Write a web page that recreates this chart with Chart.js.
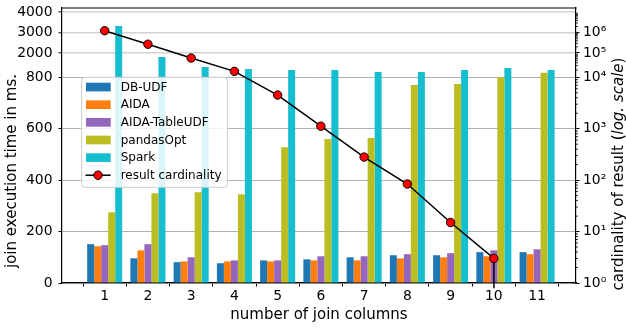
<!DOCTYPE html>
<html>
<head>
<meta charset="utf-8">
<script src="https://cdn.jsdelivr.net/npm/chart.js@4/dist/chart.umd.min.js"></script>
<style>
  html, body { margin: 0; padding: 0; background: #fff; }
  canvas { display: block; }
</style>
</head>
<body>
<canvas id="c" width="626" height="329"></canvas>
<script>
// ---------------- data ----------------
const categories = [1, 2, 3, 4, 5, 6, 7, 8, 9, 10, 11];
const seriesNames = ['DB-UDF', 'AIDA', 'AIDA-TableUDF', 'pandasOpt', 'Spark'];
const dbUdf      = [151, 96, 81, 77, 88, 92, 100, 108, 108, 120, 120];
const aida       = [143, 127, 84, 84, 84, 88, 88, 96, 100, 104, 112];
const aidaTable  = [147, 151, 100, 88, 88, 104, 104, 112, 116, 127, 131];
const pandasOpt  = [275, 349, 353, 345, 528, 560, 564, 770, 774, 800, 1026];
const spark      = [3325, 1800, 1307, 1209, 1160, 1160, 1060, 1060, 1160, 1258, 1160];
const lineName   = 'result cardinality';
const cardinality = [1.25e6, 2.7e5, 6.2e4, 1.76e4, 4520, 1120, 281, 84, 15, 3, 0];
const leftTicks  = [0, 200, 400, 600, 800, 2000, 3000, 4000];
const rightTicks = [1, 10, 100, 1000, 10000, 100000, 1000000];
const xTitle = 'number of join columns';
const yTitle = 'join execution time in ms.';
const y2TitleParts = [['cardinality of result (', false], ['log. scale', true], [')', false]];

const colors = ['#1f77b4', '#ff7f0e', '#9467bd', '#bcbd22', '#17becf'];
const FONT = '"DejaVu Sans", "Liberation Sans", sans-serif';

// ------------- broken (piecewise) scale -------------
class BrokenScale extends Chart.Scale {
  determineDataLimits() {
    const k = this.options.knots;
    this.min = k[0][0];
    this.max = k[k.length - 1][0];
  }
  buildTicks() {
    return this.options.tickValues.map(v => ({ value: v }));
  }
  _t(v) { return this.options.logMode ? Math.log10(Math.max(v, 1e-300)) : v; }
  _frac(v) {
    const k = this.options.knots;
    const t = this._t(v);
    let i = 1;
    while (i < k.length - 1 && t > this._t(k[i][0])) i++;
    const a = k[i - 1], b = k[i];
    const ta = this._t(a[0]), tb = this._t(b[0]);
    return a[1] + (t - ta) / (tb - ta) * (b[1] - a[1]);
  }
  getPixelForValue(v) {
    if (v === null || v === undefined || isNaN(v)) return NaN;
    return this.getPixelForDecimal(this._frac(v));
  }
  getPixelForTick(i) {
    const t = this.ticks;
    if (i < 0 || i > t.length - 1) return null;
    return this.getPixelForValue(t[i].value);
  }
  getValueForPixel(p) {
    const f = this.getDecimalForPixel(p);
    const k = this.options.knots;
    let i = 1;
    while (i < k.length - 1 && f > k[i][1]) i++;
    const a = k[i - 1], b = k[i];
    const ta = this._t(a[0]), tb = this._t(b[0]);
    const t = ta + (f - a[1]) / (b[1] - a[1]) * (tb - ta);
    return this.options.logMode ? Math.pow(10, t) : t;
  }
  getLabelForValue(v) { return String(v); }
}
BrokenScale.id = 'broken';
BrokenScale.defaults = {};
Chart.register(BrokenScale);

const SUP = { '0': '\u2070', '1': '\u00b9', '2': '\u00b2', '3': '\u00b3', '4': '\u2074', '5': '\u2075', '6': '\u2076', '7': '\u2077' };

function noPad(s) { s.paddingTop = 0; s.paddingBottom = 0; s.paddingLeft = 0; s.paddingRight = 0; }

const TITLE_FONT = '15px ' + FONT;

// ------------- extras plugin: titles, legend, top spine, minor ticks -------------
const extras = {
  id: 'extras',
  afterDatasetsDraw(chart) {
    const ctx = chart.ctx;
    const bx = 81.7, by = 77.3, bw = 145.6, bh = 110;
    ctx.save();
    ctx.beginPath();
    ctx.roundRect(bx, by, bw, bh, 3);
    ctx.fillStyle = 'rgba(255,255,255,0.85)';
    ctx.fill();
    ctx.strokeStyle = '#cccccc';
    ctx.lineWidth = 1;
    ctx.stroke();
    ctx.font = '12px ' + FONT;
    ctx.textBaseline = 'middle';
    ctx.textAlign = 'left';
    const ds = chart.data.datasets;
    const rowY0 = 87, rowDy = 17.64;
    ds.forEach((d, i) => {
      const cy = rowY0 + i * rowDy;
      if (d.type === 'line') {
        ctx.strokeStyle = d.borderColor;
        ctx.lineWidth = d.borderWidth;
        ctx.beginPath();
        ctx.moveTo(85.5, cy); ctx.lineTo(110.7, cy);
        ctx.stroke();
        ctx.beginPath();
        ctx.arc(98, cy, d.pointRadius, 0, Math.PI * 2);
        ctx.fillStyle = d.pointBackgroundColor;
        ctx.fill();
        ctx.lineWidth = d.pointBorderWidth;
        ctx.strokeStyle = d.pointBorderColor;
        ctx.stroke();
      } else {
        ctx.fillStyle = d.backgroundColor;
        ctx.fillRect(86, cy - 4.3, 24.7, 8.7);
      }
      ctx.fillStyle = '#000';
      ctx.fillText(d.label, 120.7, cy + 0.5);
    });
    ctx.restore();
  },
  afterDraw(chart) {
    const ctx = chart.ctx;
    const a = chart.chartArea;
    ctx.save();
    ctx.strokeStyle = '#000';
    ctx.lineWidth = 1.2;
    ctx.beginPath();
    ctx.moveTo(a.left - 0.6, a.top); ctx.lineTo(a.right + 0.6, a.top);
    ctx.stroke();
    const y2 = chart.scales.y2;
    ctx.lineWidth = 0.8;
    for (let n = 0; n < 8; n++) {
      for (let k = 2; k <= 9; k++) {
        const v = k * Math.pow(10, n);
        if (v >= y2.max) continue;
        const py = y2.getPixelForValue(v);
        ctx.beginPath();
        ctx.moveTo(a.right, py); ctx.lineTo(a.right + 2, py);
        ctx.stroke();
      }
    }
    ctx.fillStyle = '#000';
    ctx.font = TITLE_FONT;
    ctx.textAlign = 'center';
    ctx.textBaseline = 'middle';
    ctx.fillText(xTitle, (a.left + a.right) / 2, 315);
    ctx.save();
    ctx.translate(12, 171);
    ctx.rotate(-Math.PI / 2);
    ctx.fillText(yTitle, 0, 0);
    ctx.restore();
    ctx.save();
    ctx.translate(619, 174);
    ctx.rotate(-Math.PI / 2);
    ctx.textAlign = 'left';
    let total = 0;
    const fonts = y2TitleParts.map(p => (p[1] ? 'italic ' : '') + TITLE_FONT);
    y2TitleParts.forEach((p, i) => { ctx.font = fonts[i]; total += ctx.measureText(p[0]).width; });
    let x = -total / 2;
    y2TitleParts.forEach((p, i) => {
      ctx.font = fonts[i];
      ctx.fillText(p[0], x, 0);
      x += ctx.measureText(p[0]).width;
    });
    ctx.restore();
    ctx.restore();
  }
};

const barSeries = [dbUdf, aida, aidaTable, pandasOpt, spark];
const datasets = barSeries.map((arr, i) => ({
  type: 'bar',
  label: seriesNames[i],
  data: arr,
  backgroundColor: colors[i],
  borderWidth: 0,
  barPercentage: 1.0,
  categoryPercentage: 0.81,
  yAxisID: 'y',
  order: 1
}));
datasets.push({
  type: 'line',
  label: lineName,
  data: cardinality,
  yAxisID: 'y2',
  borderColor: '#000000',
  borderWidth: 1.5,
  pointRadius: 4.2,
  pointBackgroundColor: '#ff0000',
  pointBorderColor: '#000000',
  pointBorderWidth: 1,
  tension: 0,
  order: 0
});

const tickFont = { family: FONT, size: 13.9 };

new Chart(document.getElementById('c'), {
  type: 'bar',
  data: { labels: categories, datasets },
  plugins: [extras],
  options: {
    responsive: false,
    animation: false,
    devicePixelRatio: 1,
    layout: { padding: { top: 8, left: 0, right: 0, bottom: 0 } },
    plugins: { legend: { display: false }, tooltip: { enabled: false } },
    scales: {
      x: {
        type: 'linear',
        min: 0.013, max: 11.9,
        offset: false,
        afterBuildTicks: s => { s.ticks = categories.map(v => ({ value: v })); },
        afterFit: s => { s.height = 46; noPad(s); },
        ticks: { autoSkip: false, color: '#000', font: tickFont, padding: 2, maxRotation: 0,
                 callback: v => String(v) },
        grid: { drawOnChartArea: false, drawTicks: true, tickLength: 3.5, tickColor: '#000', tickWidth: 1 },
        border: { display: true, color: '#000', width: 1.2 }
      },
      y: {
        type: 'broken',
        position: 'left',
        knots: [[0, 0], [800, 0.748], [4211, 1]],
        tickValues: leftTicks,
        logMode: false,
        afterFit: s => { s.width = 62; noPad(s); },
        ticks: { autoSkip: false, color: '#000', font: tickFont, padding: 6 },
        grid: {
          drawOnChartArea: true,
          drawTicks: true,
          tickLength: 3.5,
          tickColor: '#000',
          tickWidth: 1,
          color: c => (c.tick && c.tick.value > 800) ? '#d2d2d2' : '#b0b0b0',
          lineWidth: c => (c.tick && c.tick.value > 800) ? 1.6 : 1
        },
        border: { display: true, color: '#000', width: 1.2 }
      },
      y2: {
        type: 'broken',
        position: 'right',
        knots: [[1, 0], [1e4, 0.748], [1e5, 0.8364], [1e6, 0.9102], [1.65e7, 1]],
        tickValues: rightTicks,
        logMode: true,
        afterFit: s => { s.width = 50; noPad(s); },
        ticks: {
          autoSkip: false, color: '#000', font: tickFont, padding: 3.5,
          callback: v => '10' + String(Math.round(Math.log10(v))).split('').map(ch => SUP[ch]).join('')
        },
        grid: { drawOnChartArea: false, drawTicks: true, tickLength: 3.5, tickColor: '#000', tickWidth: 1 },
        border: { display: true, color: '#000', width: 1.2 }
      }
    }
  }
});
</script>
</body>
</html>
